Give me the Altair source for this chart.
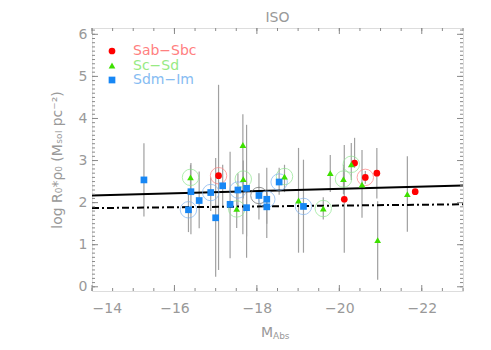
import altair as alt
import pandas as pd
import numpy as np

# ---------------- data ----------------
# Sab-Sbc (red circles)
sab_m = [-17.07, -20.12, -20.37, -20.63, -20.91, -21.84]
sab_v = [2.64, 2.08, 2.94, 2.60, 2.70, 2.26]
sab_lo = [0.40, 0.81, 2.83, 2.45, 2.10, 2.26]
sab_hi = [4.80, 3.37, 3.54, 2.75, 3.30, 2.26]
sab_ring = ["#ff8080", "", "", "#ff8080", "", ""]

# Sc-Sd (green triangles)
sc_m = [-16.39, -17.66, -17.67, -17.51, -18.67, -19.01, -19.61, -19.78, -20.10, -20.29, -20.55, -20.93, -21.65]
sc_v = [2.60, 3.37, 2.56, 1.85, 2.62, 2.05, 1.86, 2.70, 2.56, 2.91, 2.43, 1.11, 2.20]
sc_lo = [2.30, 1.25, 2.10, 1.40, 2.25, 0.81, 1.60, 2.25, 2.20, 2.54, 1.64, 0.17, 1.31]
sc_hi = [2.90, 4.10, 3.00, 2.30, 2.90, 3.30, 2.13, 3.13, 2.90, 3.42, 3.25, 2.03, 3.10]
sc_ring = ["#90e890", "", "#90e890", "#90e890", "#90e890", "", "#90e890", "", "#90e890", "#90e890", "", "", ""]

# Sdm-Im (blue squares)
sdm_m = [-15.26, -16.40, -16.34, -16.60, -16.88, -17.00, -17.17, -17.35, -17.54, -17.75, -17.75, -18.05, -18.24, -18.24, -18.54, -19.13]
sdm_v = [2.54, 2.26, 1.83, 2.05, 2.24, 1.64, 2.40, 1.96, 2.30, 2.34, 1.88, 2.17, 2.08, 1.90, 2.49, 1.91]
sdm_lo = [1.67, 1.25, 1.30, 1.39, 1.80, 0.24, 1.90, 0.68, 1.90, 0.69, 1.20, 1.60, 1.16, 1.50, 2.19, 0.81]
sdm_hi = [3.41, 2.94, 2.30, 2.74, 2.60, 3.06, 2.90, 3.21, 2.70, 3.85, 2.50, 2.70, 2.83, 2.30, 2.83, 3.02]
sdm_ring = ["", "", "#80b4f0", "", "#80b4f0", "", "", "", "#80b4f0", "", "", "#666666", "#80b4f0", "", "#80b4f0", "#80b4f0"]

# fit lines (end points)
fit_m = [-14.0, -23.0]
fit_solid = [2.17, 2.41]
fit_dashdot = [1.87, 1.96]

# legend
leg_labels = ["Sab\u2212Sbc", "Sc\u2212Sd", "Sdm\u2212Im"]
leg_shapes = ["circle", "triangle-up", "square"]
leg_sym_colors = ["#ff0000", "#3ee000", "#1787f5"]
leg_text_colors = ["#ff8080", "#98ea84", "#86bcf2"]

# axis ticks
x_major = [-14, -16, -18, -20, -22]
x_minor = [float(v) for v in np.arange(-14.0, -23.01, -0.5)]
y_major = [0, 1, 2, 3, 4, 5, 6]
y_minor = [round(float(v), 1) for v in np.arange(0.0, 6.11, 0.1)]

# ---------------- build tables ----------------
def table(m, v, lo, hi, ring, cls):
    return pd.DataFrame({"M": m, "v": v, "lo": lo, "hi": hi, "ring": ring, "cls": cls})

df = pd.concat([
    table(sab_m, sab_v, sab_lo, sab_hi, sab_ring, "sab"),
    table(sc_m, sc_v, sc_lo, sc_hi, sc_ring, "sc"),
    table(sdm_m, sdm_v, sdm_lo, sdm_hi, sdm_ring, "sdm"),
], ignore_index=True)

fit_df = pd.DataFrame({"M": fit_m, "solid": fit_solid, "dd": fit_dashdot})
leg_df = pd.DataFrame({"row": [0, 1, 2], "label": leg_labels, "shape": leg_shapes,
                       "sym": leg_sym_colors, "tc": leg_text_colors})

W, H = 371, 263
GRAY = "#8a8a8a"
TXT = "#999999"
FONT = "DejaVu Sans"

xs = alt.Scale(domain=[-14, -23], nice=False, zero=False)
ys = alt.Scale(domain=[-0.1, 6.15], nice=False, zero=False)

x_axis = alt.Axis(values=x_major, ticks=False, domain=False, grid=False, title=None,
                  labelColor=TXT, labelFontSize=14, labelFont=FONT,
                  labelPadding=10)
y_axis = alt.Axis(values=y_major, ticks=False, domain=False, grid=False,
                  title="log R\u2080*\u03c1\u2080 (M\u209b\u2092\u2097 pc\u207b\u00b2)",
                  titleColor=TXT, titleFontSize=14, titleFont=FONT, titleFontWeight="normal",
                  titlePadding=14,
                  labelColor=TXT, labelFontSize=14, labelFont=FONT,
                  labelPadding=5)

def X(field):
    return alt.X(field, scale=xs, axis=x_axis)

def Y(field):
    return alt.Y(field, scale=ys, axis=y_axis)

base = alt.Chart(df)

errbars = base.mark_rule(color="#a0a0a0", strokeWidth=1.2).encode(
    x=X("M:Q"), y=Y("lo:Q"), y2="hi:Q")

fit_base = alt.Chart(fit_df)
solid_line = fit_base.mark_line(color="black", strokeWidth=2).encode(
    x=X("M:Q"), y=Y("solid:Q"))
dd_line = fit_base.mark_line(color="black", strokeWidth=2, strokeDash=[7, 3, 2, 3]).encode(
    x=X("M:Q"), y=Y("dd:Q"))

rings = base.transform_filter(alt.datum.ring != "").mark_point(
    shape="circle", filled=False, size=270, strokeWidth=1).encode(
    x=X("M:Q"), y=Y("v:Q"), color=alt.Color("ring:N", scale=None))

def pts(cls, shape, color, size):
    return base.transform_filter(alt.datum.cls == cls).mark_point(
        shape=shape, filled=True, opacity=1, size=size, color=color).encode(
        x=X("M:Q"), y=Y("v:Q"))

p_sab = pts("sab", "circle", leg_sym_colors[0], 45)
p_sc = pts("sc", "triangle-up", leg_sym_colors[1], 45)
p_sdm = pts("sdm", "square", leg_sym_colors[2], 45)

# inward ticks on all four sides
def xticks(vals, length):
    d = alt.Chart(pd.DataFrame({"t": vals}))
    bot = d.mark_rule(color=GRAY, strokeWidth=1).encode(
        x=X("t:Q"), y=alt.value(H), y2=alt.value(H - length))
    top = d.mark_rule(color=GRAY, strokeWidth=1).encode(
        x=X("t:Q"), y=alt.value(0), y2=alt.value(length))
    return [bot, top]

def yticks(vals, length):
    d = alt.Chart(pd.DataFrame({"t": vals}))
    left = d.mark_rule(color=GRAY, strokeWidth=1).encode(
        y=Y("t:Q"), x=alt.value(0), x2=alt.value(length))
    right = d.mark_rule(color=GRAY, strokeWidth=1).encode(
        y=Y("t:Q"), x=alt.value(W), x2=alt.value(W - length))
    return [left, right]

tick_layers = xticks(x_major, 6) + xticks(x_minor, 3) + yticks(y_major, 6) + yticks(y_minor, 3)

# x axis title with subscript
xt_m = alt.Chart(pd.DataFrame({"t": ["M"]})).mark_text(
    align="right", baseline="alphabetic", fontSize=14, font=FONT, color=TXT).encode(
    text="t:N", x=alt.value(181), y=alt.value(309))
xt_sub = alt.Chart(pd.DataFrame({"t": ["Abs"]})).mark_text(
    align="left", baseline="alphabetic", fontSize=9, font=FONT, color=TXT).encode(
    text="t:N", x=alt.value(181), y=alt.value(311))

data_layer = alt.layer(errbars, solid_line, dd_line, rings, p_sab, p_sc, p_sdm,
                       *tick_layers, xt_m, xt_sub)

# legend
leg_y = alt.Y("row:O", scale=alt.Scale(range=[23, 52], padding=0), axis=None)
leg_base = alt.Chart(leg_df)
leg_sym = leg_base.mark_point(filled=True, opacity=1, size=45).encode(
    x=alt.value(20), y=leg_y,
    shape=alt.Shape("shape:N", scale=None), color=alt.Color("sym:N", scale=None))
leg_txt = leg_base.mark_text(align="left", baseline="middle", fontSize=14, font=FONT).encode(
    x=alt.value(41), y=leg_y, text="label:N", color=alt.Color("tc:N", scale=None))
legend_layer = alt.layer(leg_sym, leg_txt)

chart = alt.layer(data_layer, legend_layer).resolve_scale(y="independent").properties(
    width=W, height=H,
    title=alt.TitleParams("ISO", fontSize=14, color=TXT, font=FONT, fontWeight="normal", offset=2),
    padding={"left": 84, "top": 20, "right": 20, "bottom": 51},
    autosize=alt.AutoSizeParams(type="none"),
).configure_view(stroke=GRAY, strokeWidth=1).configure(background="white")

chart.save("out.html", embed_options={"renderer": "svg", "actions": False})
